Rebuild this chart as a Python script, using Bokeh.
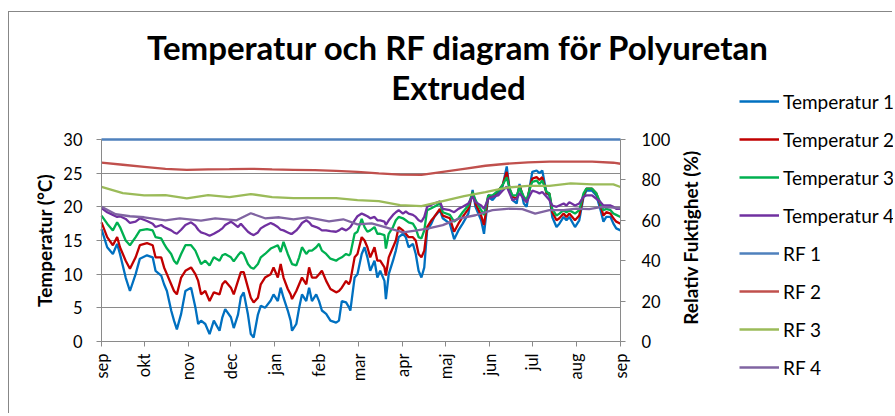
import math
from bokeh.plotting import figure
from bokeh.models import Range1d, LinearAxis, FixedTicker, Legend, LegendItem, Label
from bokeh.embed import file_html
from bokeh.resources import INLINE

FONT = "Lato"

month_days = [0, 30, 61, 91, 122, 153, 181, 212, 242, 273, 303, 334, 365]
month_labels = ["sep", "okt", "nov", "dec", "jan", "feb", "mar", "apr", "maj", "jun", "jul", "aug", "sep"]
temp_ticks = [0, 5, 10, 15, 20, 25, 30]
rf_ticks = [0, 20, 40, 60, 80, 100]

t_days = [0, 4, 8, 11, 13, 17, 20, 24, 27, 32,
          36, 38, 42, 44, 46, 49, 51, 53, 56, 59,
          63, 66, 68, 70, 73, 76, 79, 83, 85, 87,
          91, 93, 96, 98, 100, 103, 105, 107, 110, 112,
          115, 119, 121, 124, 126, 128, 131, 133, 134, 137,
          139, 141, 144, 146, 148, 151, 153, 155, 158, 161,
          165, 167, 169, 172, 174, 175, 178, 180, 183, 185,
          187, 189, 192, 194, 196, 199, 200, 202, 205, 207,
          209, 212, 214, 216, 219, 221, 223, 225, 227, 229,
          232, 234, 238, 240, 245, 248, 251, 254, 258, 261,
          263, 267, 269, 272, 275, 279, 282, 285, 287, 289,
          292, 294, 297, 299, 302, 303, 306, 308, 310, 313,
          315, 317, 320, 322, 325, 327, 329, 333, 336, 339,
          341, 345, 348, 351, 353, 355, 358, 360, 362, 365]

temp1 = [16.7, 14.0, 13.0, 14.5, 13.0, 9.5, 7.5, 10.0, 12.3, 12.8,
         12.5, 10.5, 9.8, 8.5, 7.5, 4.6, 3.1, 1.8, 4.1, 7.5,
         8.0, 5.1, 2.6, 3.1, 2.6, 1.1, 3.1, 1.6, 3.6, 4.8,
         3.6, 2.0, 4.0, 6.6, 7.3, 4.0, 1.1, 0.6, 4.0, 5.3,
         5.0, 6.1, 7.0, 6.0, 8.0, 6.5, 4.6, 3.1, 1.6, 2.6,
         5.0, 7.0, 6.0, 8.0, 6.0, 7.0, 6.0, 4.6, 4.1, 3.1,
         2.8, 3.1, 6.0, 5.8, 5.1, 4.6, 9.5, 10.0, 13.0, 14.0,
         12.5, 10.5, 12.0, 9.5, 10.5, 9.0, 6.3, 10.0, 12.0, 13.5,
         15.5, 16.0, 15.5, 14.0, 14.5, 13.0, 10.5, 9.5, 11.0, 16.5,
         17.5, 18.5, 19.5, 18.3, 17.5, 15.2, 16.5, 17.5, 19.0, 22.5,
         20.0, 18.0, 16.0, 21.5, 21.0, 22.0, 23.0, 26.0, 22.5, 21.0,
         20.5, 23.4, 20.5, 20.0, 24.0, 25.2, 25.4, 25.0, 25.4, 22.0,
         21.7, 18.5, 17.0, 17.5, 18.5, 18.0, 18.5, 17.0, 18.0, 21.5,
         22.4, 22.4, 21.7, 19.5, 17.8, 18.5, 18.5, 17.5, 16.8, 16.5]

temp2 = [17.7, 15.5, 14.3, 15.5, 14.0, 12.0, 10.8, 12.5, 14.3, 14.6,
         14.3, 12.5, 12.5, 11.0, 10.0, 8.5, 7.5, 7.0, 9.5, 10.5,
         11.0, 10.0, 9.0, 7.0, 7.5, 6.0, 7.3, 7.0, 8.5, 9.0,
         8.0, 7.0, 9.0, 10.3, 10.3, 8.0, 6.5, 5.8, 6.5, 8.5,
         9.5, 10.0, 11.0, 9.5, 11.5, 9.5, 7.8, 7.0, 6.3, 7.5,
         8.5, 9.5, 8.5, 11.0, 9.5, 9.5, 10.0, 10.5, 9.0, 7.8,
         7.3, 7.5, 8.0, 9.0, 8.5, 9.0, 12.5, 13.0, 15.5, 15.0,
         14.0, 12.5, 14.0, 12.0, 12.0, 11.0, 9.8, 12.5, 14.0, 15.0,
         17.0, 16.5, 16.0, 15.5, 15.5, 15.0, 13.0, 12.5, 13.5, 17.0,
         18.0, 18.5, 19.7, 18.7, 18.3, 16.3, 17.5, 18.5, 19.7, 22.2,
         20.5, 18.7, 17.3, 21.7, 21.5, 22.4, 23.2, 25.2, 22.7, 21.5,
         21.2, 23.2, 21.2, 20.7, 23.5, 24.2, 24.4, 24.0, 24.4, 22.0,
         22.0, 19.2, 18.0, 18.3, 19.0, 18.5, 19.0, 18.0, 18.7, 21.7,
         22.7, 22.7, 22.0, 20.2, 18.7, 19.2, 19.0, 18.3, 17.8, 17.5]

temp3 = [18.7, 17.5, 16.5, 17.7, 17.0, 15.0, 14.3, 15.5, 16.5, 16.7,
         16.5, 15.5, 15.3, 14.5, 13.8, 13.0, 12.0, 11.5, 13.0, 14.3,
         14.3, 13.5, 12.5, 11.5, 12.0, 11.3, 12.5, 12.0, 12.8, 13.0,
         12.5, 11.9, 12.8, 13.3, 13.0, 11.5, 11.0, 10.8, 11.5, 12.5,
         13.0, 13.8, 14.0, 14.3, 13.3, 14.8, 13.0, 12.0, 11.5, 11.3,
         12.5, 14.0, 13.0, 13.5, 13.5, 14.0, 14.5, 13.5, 13.0, 12.3,
         12.0, 12.3, 12.5, 13.0, 12.8, 13.0, 16.0, 16.3, 18.2, 17.0,
         16.3, 16.5, 17.0, 16.0, 16.0, 15.8, 13.8, 16.0, 17.0, 18.0,
         18.5, 18.3, 18.0, 17.7, 17.5, 16.8, 15.5, 15.3, 16.5, 19.5,
         19.8, 20.0, 20.5, 19.2, 18.8, 17.8, 18.3, 19.2, 20.2, 22.2,
         21.0, 19.5, 18.8, 21.7, 21.7, 22.4, 23.2, 24.4, 22.7, 21.7,
         21.7, 22.9, 21.5, 21.0, 23.2, 23.7, 23.9, 23.4, 23.9, 22.2,
         22.0, 19.7, 18.7, 19.0, 19.5, 19.2, 19.5, 19.0, 19.5, 22.0,
         22.7, 22.7, 22.0, 20.5, 19.5, 19.7, 19.5, 19.0, 18.8, 18.5]

temp4 = [19.8, 19.2, 18.8, 18.5, 18.6, 18.2, 17.6, 17.8, 18.3, 17.9,
         17.5, 17.0, 17.3, 17.0, 16.8, 16.5, 16.2, 16.0, 16.6, 17.3,
         17.7, 17.2, 16.6, 16.2, 16.0, 15.7, 16.0, 16.5, 16.8, 17.3,
         17.8, 17.5, 17.0, 17.5, 17.0, 16.3, 16.0, 15.8, 16.2, 16.8,
         17.2, 17.6, 17.4, 17.0, 16.6, 16.5, 16.2, 16.0, 16.0, 16.5,
         17.0, 17.6, 18.0, 17.7, 17.2, 17.0, 16.8, 16.5, 16.5, 16.4,
         16.3, 16.5, 16.8, 16.5, 16.8, 17.0, 18.0, 18.6, 19.0, 18.8,
         18.6, 18.3, 18.5, 18.0, 18.0, 17.8, 17.3, 18.0, 18.8, 19.2,
         19.5, 19.0, 19.3, 19.0, 18.8, 18.5, 18.0, 17.8, 18.5, 20.0,
         20.3, 20.5, 20.8, 19.7, 19.5, 19.2, 19.7, 20.0, 20.5, 21.5,
         20.7, 20.2, 19.7, 21.2, 21.5, 21.7, 22.4, 23.0, 22.0, 21.0,
         21.2, 22.0, 21.2, 20.7, 22.0, 22.4, 22.2, 22.0, 22.2, 21.5,
         21.0, 20.2, 20.0, 20.2, 20.5, 20.2, 20.7, 20.2, 20.5, 21.5,
         21.7, 21.7, 21.2, 20.7, 20.2, 20.2, 20.2, 20.0, 19.7, 19.7]

rf1_days = [0, 365]
rf1 = [100, 100]

rf_days = [0, 15, 30, 45, 60, 75, 90, 105, 120, 135, 150, 165, 180, 195, 210, 225,
           240, 255, 270, 285, 300, 315, 330, 345, 360, 365]
rf2 = [88.5, 87.5, 86.5, 85.5, 85.0, 85.2, 85.3, 85.5, 85.2, 85.0, 84.8, 84.5, 84.0, 83.2, 82.6, 82.5,
       84.0, 85.5, 87.0, 88.0, 88.7, 89.0, 89.0, 89.0, 88.5, 88.0]
rf3 = [76.5, 73.5, 72.3, 72.5, 70.8, 72.5, 71.5, 73.0, 71.5, 71.0, 71.0, 71.0, 70.0, 69.5, 67.5, 67.0,
       69.5, 72.0, 74.0, 76.2, 77.0, 77.0, 78.3, 77.8, 77.8, 76.5]

rf4_days = [0, 10, 20, 30, 45, 55, 70, 80, 95, 105, 115, 125, 135, 145, 160, 170, 180, 190, 200,
            212, 222, 230, 240, 252, 263, 275, 287, 296, 305, 315, 325, 334, 343, 352, 365]
rf4 = [66.7, 63.0, 62.0, 61.5, 60.0, 61.0, 59.8, 61.0, 60.0, 63.5, 61.0, 61.5, 60.5, 61.5, 59.5, 60.5,
       58.0, 58.5, 56.5, 54.0, 55.0, 56.0, 57.6, 61.0, 62.5, 65.0, 65.8, 65.5, 63.3, 65.0, 65.0, 65.8,
       65.5, 66.6, 66.0]

names = ["Temperatur 1", "Temperatur 2", "Temperatur 3", "Temperatur 4", "RF 1", "RF 2", "RF 3", "RF 4"]
colors = ["#0070C0", "#C00000", "#00B050", "#7030A0", "#4F81BD", "#C0504D", "#9BBB59", "#8064A2"]
title_lines = ["Temperatur och RF diagram för Polyuretan", "Extruded"]
left_title = "Temperatur (°C)"
right_title = "Relativ Fuktighet (%)"

# ---- layout constants (canvas pixels) ----
GRID = "#8A8A8A"
W, H = 884, 402
PX0, PX1 = 92, 611      # plot area left / right
PY0, PY1 = 127, 329     # plot area top / bottom
DAYS = month_days[-1]
TMAX = temp_ticks[-1]
RFMAX = rf_ticks[-1]
sx = (PX1 - PX0) / DAYS
sy = (PY1 - PY0) / TMAX

x_range = Range1d(-PX0 / sx, (W - PX0) / sx)
y_range = Range1d(-(H - PY1) / sy, PY1 / sy)
rf_range = Range1d(y_range.start * RFMAX / TMAX, y_range.end * RFMAX / TMAX)

p = figure(width=W, height=H, output_backend="svg", toolbar_location=None, title_location=None,
           x_range=x_range, y_range=y_range, min_border=0,
           min_border_left=0, min_border_right=0, min_border_top=0, min_border_bottom=0)
p.extra_y_ranges = {"rf": rf_range}
p.outline_line_color = None
p.background_fill_color = "white"
p.border_fill_color = "white"
p.styles = {"border-top": "1px solid #878787", "border-left": "1px solid #878787",
            "margin-top": "11px", "margin-left": "8px"}

xax = p.xaxis[0]
yax = p.yaxis[0]
xax.ticker = FixedTicker(ticks=month_days)
xax.major_label_overrides = {d: l for d, l in zip(month_days, month_labels)}
xax.major_label_orientation = math.pi / 2
xax.fixed_location = 0
xax.bounds = (0, DAYS)

yax.ticker = FixedTicker(ticks=temp_ticks)
yax.axis_label = left_title
yax.fixed_location = 0
yax.bounds = (0, TMAX)

rax = LinearAxis(y_range_name="rf", ticker=FixedTicker(ticks=rf_ticks),
                 fixed_location=DAYS, bounds=(0, RFMAX))
p.add_layout(rax, "right")

for ax in [xax, yax, rax]:
    ax.axis_line_color = GRID
    ax.major_tick_line_color = GRID
    ax.minor_tick_line_color = None
    ax.major_tick_in = 0
    ax.major_tick_out = 5
    ax.major_label_text_font = FONT
    ax.major_label_text_font_size = "16.5px"
    ax.major_label_text_color = "#000000"
    ax.axis_label_text_font = FONT
    ax.axis_label_text_font_size = "19px"
    ax.axis_label_text_font_style = "bold"
    ax.axis_label_text_color = "#000000"
xax.major_label_standoff = 7
yax.major_label_standoff = 14
yax.axis_label_standoff = 4
rax.major_label_standoff = 16

p.xgrid.grid_line_color = None
p.ygrid.grid_line_color = GRID
p.ygrid.grid_line_width = 1
p.ygrid.bounds = (0, TMAX)
p.ygrid.cross_bounds = (0, DAYS)

# right axis title, reading bottom-to-top, centred on the plot area
p.add_layout(Label(x=681, y=H - 225, x_units="screen", y_units="screen", text=right_title,
                   angle=math.pi / 2, text_align="center", text_baseline="middle",
                   text_font=FONT, text_font_style="bold", text_font_size="19px",
                   text_color="#000000"))

# series
series = [(t_days, temp1, None), (t_days, temp2, None), (t_days, temp3, None), (t_days, temp4, None),
          (rf1_days, rf1, "rf"), (rf_days, rf2, "rf"), (rf_days, rf3, "rf"), (rf4_days, rf4, "rf")]
items = []
for (xs, ys, rng), name, col in zip(series, names, colors):
    kw = {}
    if rng:
        kw["y_range_name"] = rng
    r = p.line(xs, ys, line_color=col, line_width=2.3, **kw)
    items.append(LegendItem(label=name, renderers=[r]))

legend = Legend(items=items, location=(730, H - 367), orientation="vertical",
                glyph_width=40, glyph_height=24, label_height=24, spacing=14,
                padding=0, margin=0, label_standoff=4,
                border_line_color=None, background_fill_alpha=0,
                label_text_font=FONT, label_text_font_size="19px", label_text_color="#000000")
p.add_layout(legend)

# title (two lines), screen position relative to the canvas bottom-left
for txt, base_y in zip(title_lines, [34, 74]):
    p.add_layout(Label(x=449, y=H - base_y, x_units="screen", y_units="screen", text=txt,
                       text_align="center", text_baseline="alphabetic",
                       text_font=FONT, text_font_style="bold", text_font_size="33px",
                       text_color="#000000"))

open("out.html", "w").write(file_html(p, INLINE))
